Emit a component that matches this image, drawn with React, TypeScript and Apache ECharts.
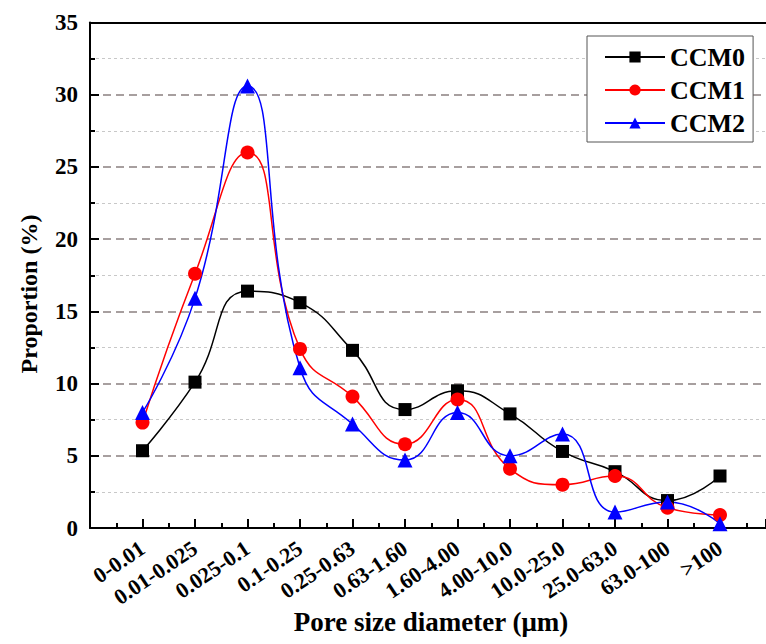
import React, { useEffect, useRef } from "react";
import * as echarts from "echarts";

const categories = [
  "0-0.01", "0.01-0.025", "0.025-0.1", "0.1-0.25", "0.25-0.63", "0.63-1.60",
  "1.60-4.00", "4.00-10.0", "10.0-25.0", "25.0-63.0", "63.0-100", ">100",
];
const ccm0 = [5.35, 10.1, 16.4, 15.6, 12.3, 8.2, 9.5, 7.9, 5.3, 3.9, 1.9, 3.6];
const ccm1 = [7.3, 17.6, 26.0, 12.4, 9.1, 5.8, 8.9, 4.1, 3.0, 3.6, 1.4, 0.9];
const ccm2 = [8.0, 15.9, 30.6, 11.1, 7.2, 4.7, 8.0, 5.0, 6.5, 1.1, 1.8, 0.3];
const yTicks = [0, 5, 10, 15, 20, 25, 30, 35];

const FONT = '"Liberation Serif", "Times New Roman", serif';

export default function App() {
  const ref = useRef<HTMLDivElement>(null);
  useEffect(() => {
    if (!ref.current) return;
    const chart = echarts.init(ref.current, undefined, { renderer: "svg" });
    const toPts = (arr: number[]) => arr.map((v, i) => [i, v]);
    const mk = (name: string, data: number[], color: string, symbol: string, size: number) => ({
      name,
      type: "line",
      xAxisIndex: 0,
      data: toPts(data),
      smooth: 0.5,
      symbol,
      symbolSize: size,
      lineStyle: { color, width: 1.5 },
      itemStyle: { color, borderWidth: 0 },
    });
    chart.setOption({
      animation: false,
      backgroundColor: "#ffffff",
      grid: { left: 90, right: 0, top: 22.5, bottom: 116 },
      legend: {
        left: 587,
        top: 36,
        orient: "vertical",
        itemWidth: 60,
        itemHeight: 14,
        itemGap: 7,
        padding: [8, 8, 6, 17],
        borderColor: "#555",
        borderWidth: 1,
        backgroundColor: "#fff",
        textStyle: { fontFamily: FONT, fontWeight: "bold", fontSize: 26, color: "#000" },
        data: ["CCM0", "CCM1", "CCM2"],
      },
      xAxis: [
        {
          type: "value",
          min: -1,
          max: 11.876,
          interval: 1,
          axisLine: { show: true, onZero: false, lineStyle: { color: "#000", width: 2 } },
          axisTick: { show: true, inside: true, length: 9, lineStyle: { color: "#000", width: 2 } },
          minorTick: { show: true, splitNumber: 2, length: 5, lineStyle: { color: "#000", width: 2 } },
          splitLine: { show: false },
          axisLabel: {
            rotate: 34,
            margin: 18,
            fontFamily: FONT,
            fontWeight: "bold",
            fontSize: 22,
            color: "#000",
            showMaxLabel: false,
            formatter: (v: number) => {
              const i = Math.round(v);
              return Math.abs(v - i) < 1e-6 && i >= 0 && i < categories.length ? categories[i] : "";
            },
          },
        },
        {
          type: "value",
          position: "top",
          min: -1,
          max: 11.876,
          axisLine: { show: true, onZero: false, lineStyle: { color: "#000", width: 2 } },
          axisTick: { show: false },
          axisLabel: { show: false },
          splitLine: { show: false },
        },
      ],
      yAxis: {
        type: "value",
        min: 0,
        max: 35,
        interval: 5,
        axisLine: { show: true, onZero: false, lineStyle: { color: "#000", width: 2 } },
        axisTick: { show: true, inside: true, length: 9, lineStyle: { color: "#000", width: 2 } },
        minorTick: { show: true, splitNumber: 2, length: 5, lineStyle: { color: "#000", width: 2 } },
        splitLine: {
          show: true,
          lineStyle: { color: "#8a8080", width: 1.5, type: [8, 5] },
        },
        minorSplitLine: {
          show: true,
          lineStyle: { color: "#c8c8c8", width: 1, type: [3, 3] },
        },
        axisLabel: {
          margin: 12,
          fontFamily: FONT,
          fontWeight: "bold",
          fontSize: 23,
          color: "#000",
          formatter: (v: number) => (yTicks.includes(v) ? String(v) : ""),
        },
      },
      graphic: [
        {
          type: "text",
          x: 29,
          y: 294,
          rotation: Math.PI / 2,
          style: {
            text: "Proportion (%)",
            fontFamily: FONT,
            fontWeight: "bold",
            fontSize: 24,
            fill: "#000",
            align: "center",
            verticalAlign: "middle",
          },
        },
        {
          type: "text",
          x: 431,
          y: 622,
          style: {
            text: "Pore size diameter (μm)",
            fontFamily: FONT,
            fontWeight: "bold",
            fontSize: 27,
            fill: "#000",
            align: "center",
            verticalAlign: "middle",
          },
        },
      ],
      series: [
        mk("CCM0", ccm0, "#000000", "rect", 13),
        mk("CCM1", ccm1, "#ff0000", "circle", 14),
        mk("CCM2", ccm2, "#0000ff", "triangle", 15),
      ],
    });
    return () => chart.dispose();
  }, []);
  return (
    <div
      ref={ref}
      style={{ position: "fixed", left: 0, top: 0, width: 766, height: 644 }}
    />
  );
}
